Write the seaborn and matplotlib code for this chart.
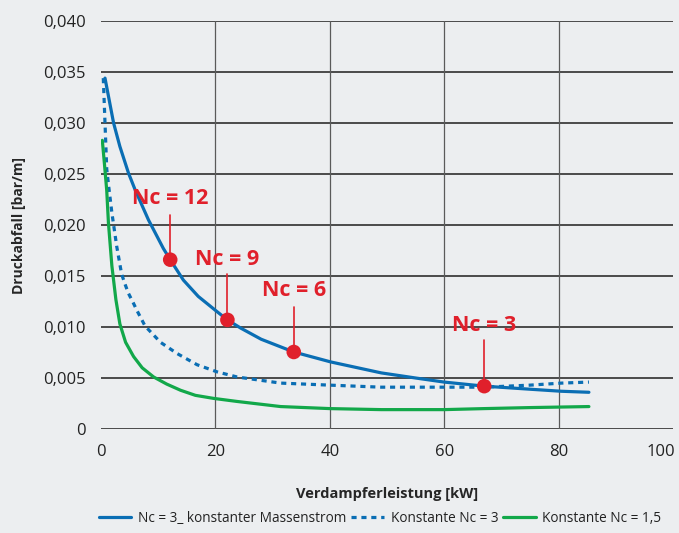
import numpy as np
import pandas as pd
import matplotlib
matplotlib.use("Agg")
import matplotlib.pyplot as plt
import matplotlib.transforms as mtransforms
import seaborn as sns

# ---------------- data ----------------
solid_x = [0.7, 2.2, 3.3, 4.8, 6.0, 8.3, 10.9, 12.1, 14.4, 17.0, 20.3, 22.1, 24.4, 28.0,
           33.7, 40.2, 49.0, 55.0, 60.0, 67.0, 75.0, 80.5, 85.3]
solid_y = [0.0344, 0.0300, 0.0277, 0.0251, 0.0234, 0.0205, 0.0177, 0.0166, 0.0146, 0.0130,
           0.0115, 0.0107, 0.0099, 0.0088, 0.00755, 0.00657, 0.0055, 0.0050, 0.0046, 0.0042,
           0.0039, 0.0037, 0.0036]

dotted_x = [0.4, 0.7, 1.0, 1.3, 1.9, 2.75, 3.6, 4.2, 4.8, 5.7, 6.3, 7.7, 10.4, 13.3, 16.8,
            20.3, 23.8, 31.4, 40.0, 49.0, 58.0, 67.0, 75.0, 80.5, 85.3]
dotted_y = [0.0344, 0.0300, 0.0255, 0.0240, 0.0212, 0.0179, 0.0152, 0.0142, 0.0133, 0.0123,
            0.0116, 0.0101, 0.0085, 0.0074, 0.0063, 0.0056, 0.0051, 0.0045, 0.0043, 0.0041,
            0.0041, 0.0041, 0.0043, 0.0045, 0.0046]

green_x = [0.23, 0.6, 1.0, 1.3, 1.9, 2.6, 3.3, 4.3, 5.1, 5.7, 7.2, 9.2, 11.5, 13.9, 16.5,
           19.7, 23.8, 31.4, 40.0, 49.0, 60.0, 67.0, 75.0, 85.3]
green_y = [0.0283, 0.0260, 0.0234, 0.0202, 0.0160, 0.0127, 0.0103, 0.0085, 0.0077, 0.0071,
           0.0060, 0.0051, 0.0044, 0.0038, 0.0033, 0.0030, 0.0027, 0.0022, 0.0020, 0.0019,
           0.0019, 0.0020, 0.0021, 0.0022]

point_x = [12.1, 22.1, 33.7, 67.0]
point_y = [0.0166, 0.0107, 0.00755, 0.0042]
point_labels = ["Nc = 12", "Nc = 9", "Nc = 6", "Nc = 3"]
label_text_y = [0.02255, 0.01657, 0.01353, 0.0101]
label_line_top = [0.0210, 0.0152, 0.01196, 0.00873]

series_names = ["Nc = 3_ konstanter Massenstrom", "Konstante Nc = 3", "Konstante Nc = 1,5"]

x_ticks = [0, 20, 40, 60, 80, 100]
y_ticks = [0, 0.005, 0.010, 0.015, 0.020, 0.025, 0.030, 0.035, 0.040]
y_ticklabels = ["0", "0,005", "0,010", "0,015", "0,020", "0,025", "0,030", "0,035", "0,040"]

# ---------------- style ----------------
sns.set_style("white")
plt.rcParams['font.family'] = ['Open Sans', 'DejaVu Sans']

BG = "#eceef0"
BLUE = "#0a6eb4"
GREEN = "#12a84a"
RED = "#e0202b"

fig = plt.figure(figsize=(6.79, 5.33), dpi=100, facecolor=BG)
ax = fig.add_axes([101/679, 1-429/533, (673-101)/679, (429-21)/533])
ax.set_facecolor(BG)

df_solid = pd.DataFrame({"x": solid_x, "y": solid_y})
df_dot = pd.DataFrame({"x": dotted_x, "y": dotted_y})
df_green = pd.DataFrame({"x": green_x, "y": green_y})

sns.lineplot(data=df_solid, x="x", y="y", ax=ax, color=BLUE, lw=2.3,
             label=series_names[0], sort=False, zorder=4)
sns.lineplot(data=df_dot, x="x", y="y", ax=ax, color=BLUE, lw=2.3,
             linestyle=(0, (1.6, 1.5)), label=series_names[1], sort=False, zorder=4)
sns.lineplot(data=df_green, x="x", y="y", ax=ax, color=GREEN, lw=2.3,
             label=series_names[2], sort=False, zorder=4)

for px, py, lab, ty, lt in zip(point_x, point_y, point_labels, label_text_y, label_line_top):
    ax.plot([px, px], [py, lt], color=RED, lw=1.2, zorder=5)
    ax.text(px, ty, lab, color=RED, fontsize=15.5, fontweight="bold",
            ha="center", va="center", zorder=6)
sns.scatterplot(x=point_x, y=point_y, ax=ax, color=RED, s=110, edgecolor="none",
                zorder=7, legend=False)

ax.set_xlim(0, 100)
ax.set_ylim(0, 0.040)
ax.set_xticks(x_ticks)
ax.set_yticks(y_ticks)
ax.set_yticklabels(y_ticklabels)
ax.tick_params(axis="both", length=0, labelsize=12, colors="#222222")
ax.tick_params(axis="y", pad=11)
ax.tick_params(axis="x", pad=11)

# last x tick label shifted slightly left, as in the reference
last = ax.get_xticklabels()[-1]
last.set_transform(last.get_transform() +
                   mtransforms.ScaledTranslation(-12/100, 0, fig.dpi_scale_trans))

ax.yaxis.grid(True, color="#3d3d3d", lw=1.3)
for xv in x_ticks[1:-1]:
    ax.axvline(xv, color="#5a5a5a", lw=0.9, zorder=1)
for s in ax.spines.values():
    s.set_visible(False)
ax.set_axisbelow(True)

ax.set_xlabel("Verdampferleistung [kW]", fontsize=10.5, fontweight="bold", labelpad=19)
ax.set_ylabel("Druckabfall [bar/m]", fontsize=10, fontweight="bold", labelpad=12)

ax.get_legend().remove()
h, l = ax.get_legend_handles_labels()
fig.legend(h[:3], l[:3], loc="center", bbox_to_anchor=(380/679, 1-518/533), ncol=3,
           frameon=False, fontsize=9.8, handlelength=2.4, columnspacing=0.35,
           handletextpad=0.5, labelcolor="#222222")

fig.savefig("out.png", dpi=100, facecolor=BG)
